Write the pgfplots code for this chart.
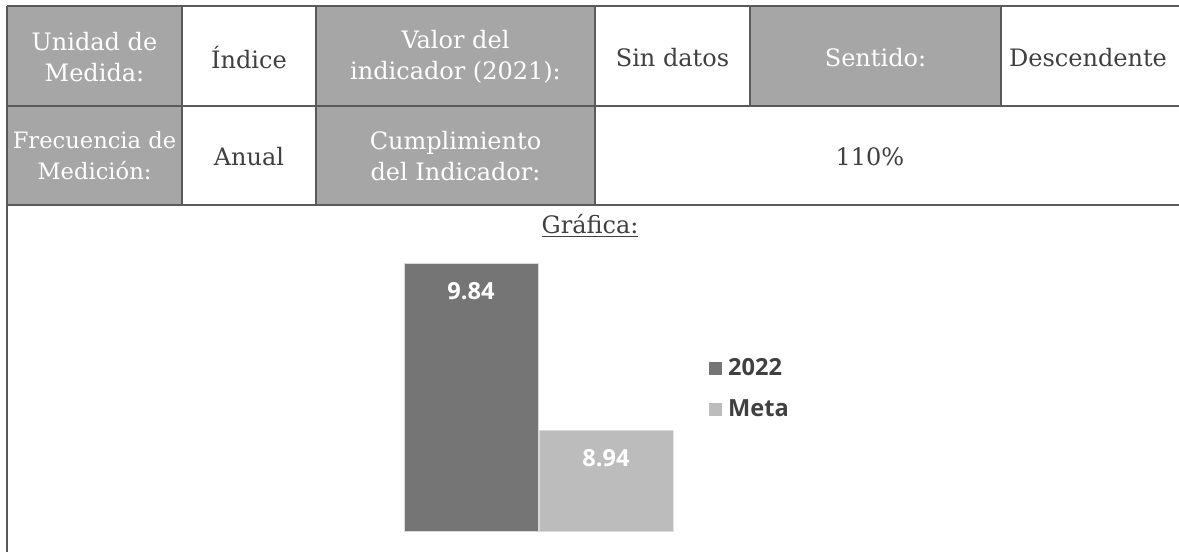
\documentclass[border=0pt]{standalone}
\usepackage{pgfplots}
\pgfplotsset{compat=1.18}
\usepackage{fontspec}
\setmainfont{DejaVu Serif}
\newfontfamily\chartfont{Open Sans}
\definecolor{cellgray}{HTML}{A6A6A6}
\definecolor{linegray}{HTML}{5A5A5A}
\definecolor{txtdark}{HTML}{404040}
\definecolor{bardark}{HTML}{757575}
\definecolor{barlight}{HTML}{BCBCBC}
\definecolor{baredge}{HTML}{D9D9D9}
\begin{document}
\begin{tikzpicture}
\useasboundingbox (0,0) rectangle (589.5pt,-276pt);
\begin{scope}[x=0.5pt,y=-0.5pt]
\fill[white] (0,0) rectangle (1179,552);
\fill[cellgray] (7,6) rectangle (182,205);
\fill[cellgray] (316,6) rectangle (595,205);
\fill[cellgray] (750,6) rectangle (1001,106);
\begin{scope}[linegray, line width=1.1pt]
\draw (6.5,6) -- (1179,6);
\draw (7,106) -- (1179,106);
\draw (7,205) -- (1179,205);
\draw (7,5.5) -- (7,552);
\draw (182,6) -- (182,205);
\draw (316,6) -- (316,205);
\draw (595,6) -- (595,205);
\draw (750,6) -- (750,106);
\draw (1001,6) -- (1001,106);
\end{scope}
\tikzset{cell/.style={align=center, font=\fontsize{12pt}{15.5pt}\selectfont, inner sep=0pt}}
\node[cell, text=white] at (94.5,57) {Unidad de\\Medida:};
\node[cell, text=txtdark] at (249,58) {Índice};
\node[cell, text=white] at (455.5,57) {Valor del\\indicador (2021):};
\node[cell, text=txtdark] at (672.5,58) {Sin datos};
\node[cell, text=white] at (875.5,58) {Sentido:};
\node[cell, text=txtdark] at (1088,58) {Descendente};
\node[cell, text=white, font=\fontsize{11.3pt}{15.5pt}\selectfont] at (94.5,156) {Frecuencia de\\Medición:};
\node[cell, text=txtdark] at (249,157) {Anual};
\node[cell, text=white] at (455.5,156) {Cumplimiento\\del Indicador:};
\node[cell, text=txtdark] at (870,157) {110\%};
\node[cell, text=txtdark] at (590,226) {\underline{Gráfica:}};
\end{scope}
\begin{axis}[
  at={(201.75pt,-265.5pt)}, anchor=south west,
  scale only axis, width=135pt, height=148.5pt,
  xmin=-0.5, xmax=1.5, ymin=8.4, ymax=10,
  hide axis,
  ybar, bar width=67pt, bar shift=0pt,
  nodes near coords={\pgfmathprintnumber[fixed,fixed zerofill,precision=2,assume math mode=true]{\pgfplotspointmeta}},
  every node near coord/.append style={font=\chartfont\bfseries\fontsize{11.8pt}{14pt}\selectfont, text=white, anchor=center, yshift=-13.5pt},
  legend image code/.code={\path[#1,draw=none] (0pt,-3.3pt) rectangle (6.6pt,3.3pt);},
  legend cell align=left,
  legend style={at={(1,0.478)}, anchor=west, xshift=17.5pt, draw=none, fill=none,
    font=\chartfont\bfseries\fontsize{11.8pt}{14pt}\selectfont, text=txtdark,
    row sep=8.5pt, inner sep=0pt, nodes={inner sep=1pt},
    /tikz/every odd column/.append style={column sep=2pt}},
]
\addplot[fill=bardark, draw=baredge, line width=0.5pt] coordinates {(0,9.84)};
\addplot[fill=barlight, draw=baredge, line width=0.5pt] coordinates {(1,8.94)};
\legend{2022, Meta}
\end{axis}
\end{tikzpicture}
\end{document}
